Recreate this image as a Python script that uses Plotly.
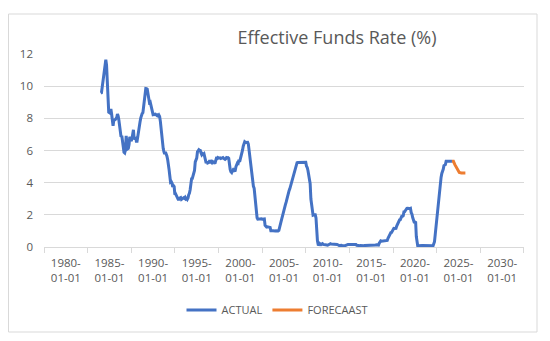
import pandas as pd
import plotly.graph_objects as go

# ---------------- data ----------------
# Monthly effective funds rate (%), starting 1984-01
actual_rate = [
    9.56, 9.59, 9.91, 10.29, 10.32, 11.06, 11.23, 11.64, 11.30, 9.99, 9.43, 8.38,   # 1984
    8.35, 8.50, 8.58, 8.27, 7.97, 7.53, 7.88, 7.90, 7.92, 7.99, 8.05, 8.27,         # 1985
    8.14, 7.86, 7.48, 6.99, 6.85, 6.92, 6.56, 6.17, 5.89, 5.85, 6.04, 6.91,         # 1986
    6.43, 6.10, 6.13, 6.37, 6.85, 6.73, 6.58, 6.73, 7.22, 7.29, 6.69, 6.77,         # 1987
    6.83, 6.58, 6.58, 6.87, 7.09, 7.51, 7.75, 8.01, 8.19, 8.30, 8.35, 8.76,         # 1988
    9.12, 9.36, 9.85, 9.84, 9.81, 9.53, 9.24, 8.99, 9.02, 8.84, 8.55, 8.45,         # 1989
    8.23, 8.24, 8.28, 8.26, 8.18, 8.29, 8.15, 8.13, 8.20, 8.11, 7.81, 7.31,         # 1990
    6.91, 6.25, 6.12, 5.91, 5.78, 5.90, 5.82, 5.66, 5.45, 5.21, 4.81, 4.43,         # 1991
    4.03, 4.06, 3.98, 3.73, 3.82, 3.76, 3.25, 3.30, 3.22, 3.10, 3.09, 2.92,         # 1992
    3.02, 3.03, 3.07, 2.96, 3.00, 3.04, 3.06, 3.03, 3.09, 2.99, 3.02, 2.96,         # 1993
    3.05, 3.25, 3.34, 3.56, 4.01, 4.25, 4.26, 4.47, 4.73, 4.76, 5.29, 5.45,         # 1994
    5.53, 5.92, 5.98, 6.05, 6.01, 6.00, 5.85, 5.74, 5.80, 5.76, 5.80, 5.60,         # 1995
    5.56, 5.22, 5.31, 5.22, 5.24, 5.27, 5.40, 5.22, 5.30, 5.24, 5.31, 5.29,         # 1996
    5.25, 5.19, 5.39, 5.51, 5.50, 5.56, 5.52, 5.54, 5.54, 5.50, 5.52, 5.50,         # 1997
    5.56, 5.51, 5.49, 5.45, 5.49, 5.56, 5.54, 5.55, 5.51, 5.07, 4.83, 4.68,         # 1998
    4.63, 4.76, 4.81, 4.74, 4.74, 4.76, 4.99, 5.07, 5.22, 5.20, 5.42, 5.30,         # 1999
    5.45, 5.73, 5.85, 6.02, 6.27, 6.53, 6.54, 6.50, 6.52, 6.51, 6.51, 6.40,         # 2000
    5.98, 5.49, 5.31, 4.80, 4.21, 3.97, 3.77, 3.65, 3.07, 2.49, 2.09, 1.82,         # 2001
    1.73, 1.74, 1.73, 1.75, 1.75, 1.75, 1.73, 1.74, 1.75, 1.75, 1.34, 1.24,         # 2002
    1.24, 1.26, 1.25, 1.26, 1.26, 1.22, 1.01, 1.03, 1.01, 1.01, 1.00, 0.98,         # 2003
    1.00, 1.01, 1.00, 1.00, 1.00, 1.03, 1.26, 1.43, 1.61, 1.76, 1.93, 2.16,         # 2004
    2.28, 2.50, 2.63, 2.79, 3.00, 3.04, 3.26, 3.50, 3.62, 3.78, 4.00, 4.16,         # 2005
    4.29, 4.49, 4.59, 4.79, 4.94, 4.99, 5.24, 5.25, 5.25, 5.25, 5.25, 5.24,         # 2006
    5.25, 5.26, 5.26, 5.25, 5.25, 5.25, 5.26, 5.02, 4.94, 4.76, 4.49, 4.24,         # 2007
    3.94, 2.98, 2.61, 2.28, 1.98, 2.00, 2.01, 2.00, 1.81, 0.97, 0.39, 0.16,         # 2008
    0.15, 0.22, 0.18, 0.15, 0.18, 0.21, 0.16, 0.16, 0.15, 0.12, 0.12, 0.12,         # 2009
    0.11, 0.13, 0.16, 0.20, 0.20, 0.18, 0.18, 0.19, 0.19, 0.19, 0.19, 0.18,         # 2010
    0.17, 0.16, 0.14, 0.10, 0.09, 0.09, 0.07, 0.10, 0.08, 0.07, 0.08, 0.07,         # 2011
    0.08, 0.10, 0.13, 0.14, 0.16, 0.16, 0.16, 0.13, 0.14, 0.16, 0.16, 0.16,         # 2012
    0.14, 0.15, 0.14, 0.15, 0.11, 0.09, 0.09, 0.08, 0.08, 0.09, 0.08, 0.09,         # 2013
    0.07, 0.07, 0.08, 0.09, 0.09, 0.10, 0.09, 0.09, 0.09, 0.09, 0.09, 0.12,         # 2014
    0.11, 0.11, 0.11, 0.12, 0.12, 0.13, 0.13, 0.14, 0.14, 0.12, 0.12, 0.24,         # 2015
    0.34, 0.38, 0.36, 0.37, 0.37, 0.38, 0.39, 0.40, 0.40, 0.40, 0.41, 0.54,         # 2016
    0.65, 0.66, 0.79, 0.90, 0.91, 1.04, 1.15, 1.16, 1.15, 1.15, 1.16, 1.30,         # 2017
    1.41, 1.42, 1.51, 1.69, 1.70, 1.82, 1.91, 1.91, 1.95, 2.19, 2.20, 2.27,         # 2018
    2.40, 2.40, 2.41, 2.42, 2.39, 2.38, 2.40, 2.13, 2.04, 1.83, 1.55, 1.55,         # 2019
    1.55, 1.58, 0.65, 0.05, 0.05, 0.08, 0.09, 0.10, 0.09, 0.09, 0.09, 0.09,         # 2020
    0.09, 0.08, 0.07, 0.07, 0.06, 0.08, 0.10, 0.09, 0.08, 0.08, 0.08, 0.08,         # 2021
    0.08, 0.08, 0.20, 0.33, 0.77, 1.21, 1.68, 2.33, 2.56, 3.08, 3.78, 4.10,         # 2022
    4.33, 4.57, 4.65, 4.83, 5.06, 5.08, 5.12, 5.33, 5.33, 5.33, 5.33, 5.33,         # 2023
    5.33, 5.33, 5.33, 5.33,                                                         # 2024
]
actual_dates = pd.date_range("1984-01-01", periods=len(actual_rate), freq="MS")

forecast_dates = ["2024-04-01", "2024-06-01", "2024-08-01", "2024-10-01",
                  "2024-12-01", "2025-02-01", "2025-05-01", "2025-08-01", "2025-10-15"]
forecast_rate = [5.33, 5.33, 5.12, 4.95, 4.75, 4.63, 4.60, 4.60, 4.60]

tick_years = [1980, 1985, 1990, 1995, 2000, 2005, 2010, 2015, 2020, 2025, 2030]
tick_vals = [f"{y}-01-01" for y in tick_years]
tick_text = [f"{y}-<br>01-01" for y in tick_years]
boundary_vals = [f"{y - 3}-07-02" for y in tick_years] + ["2032-07-02"]

series_names = ["ACTUAL", "FORECAAST"]
series_colors = ["#4472C4", "#ED7D31"]

# ---------------- figure ----------------
FONT = "Open Sans, Lato, sans-serif"
GREY = "#595959"
LINE_GREY = "#d9d9d9"

fig = go.Figure()
fig.add_trace(go.Scatter(x=actual_dates, y=actual_rate, mode="lines", name=series_names[0],
                         line=dict(color=series_colors[0], width=3)))
fig.add_trace(go.Scatter(x=forecast_dates, y=forecast_rate, mode="lines", name=series_names[1],
                         line=dict(color=series_colors[1], width=3)))

L, R, T, B = 44, 26, 54, 94
W, H = 550, 341
pw, ph = W - L - R, H - T - B

def px_x(p):
    return (p - L) / pw

def px_y(p):
    return (H - B - p) / ph

fig.update_layout(
    width=W, height=H, autosize=False,
    margin=dict(l=L, r=R, t=T, b=B, pad=0),
    paper_bgcolor="white", plot_bgcolor="white",
    font=dict(family=FONT, color=GREY, size=11),
    title=dict(text="Effective Funds Rate (%)", xref="container", yref="container",
               x=337 / W, y=1 - 38 / H, xanchor="center", yanchor="middle",
               font=dict(family=FONT, size=18, color=GREY)),
    showlegend=True,
    legend=dict(orientation="h", x=px_x(277), y=px_y(310), xanchor="center", yanchor="middle",
                font=dict(family=FONT, size=11, color=GREY), bgcolor="rgba(0,0,0,0)",
                itemclick=False, itemdoubleclick=False),
    xaxis=dict(type="date", range=["1977-07-02", "2032-07-03"],
               tickmode="array", tickvals=tick_vals, ticktext=tick_text, ticks="",
               tickfont=dict(family=FONT, size=11.5, color=GREY), ticklabelstandoff=5,
               showgrid=False, zeroline=False, showline=True, linecolor=LINE_GREY, linewidth=1,
               minor=dict(tickmode="array", tickvals=boundary_vals, ticks="outside",
                          ticklen=5, tickwidth=1, tickcolor=LINE_GREY, showgrid=False)),
    yaxis=dict(range=[0, 12], tickmode="linear", tick0=0, dtick=2, ticks="",
               tickfont=dict(family=FONT, size=11.5, color=GREY), ticklabelstandoff=10,
               showgrid=True, gridcolor=LINE_GREY, gridwidth=1, zeroline=False, showline=False),
    shapes=[dict(type="rect", xref="paper", yref="paper", layer="below",
                 x0=px_x(8.5), x1=px_x(537), y0=px_y(332), y1=px_y(14),
                 line=dict(color=LINE_GREY, width=1), fillcolor="rgba(0,0,0,0)")],
)

fig.write_html("out.html")
